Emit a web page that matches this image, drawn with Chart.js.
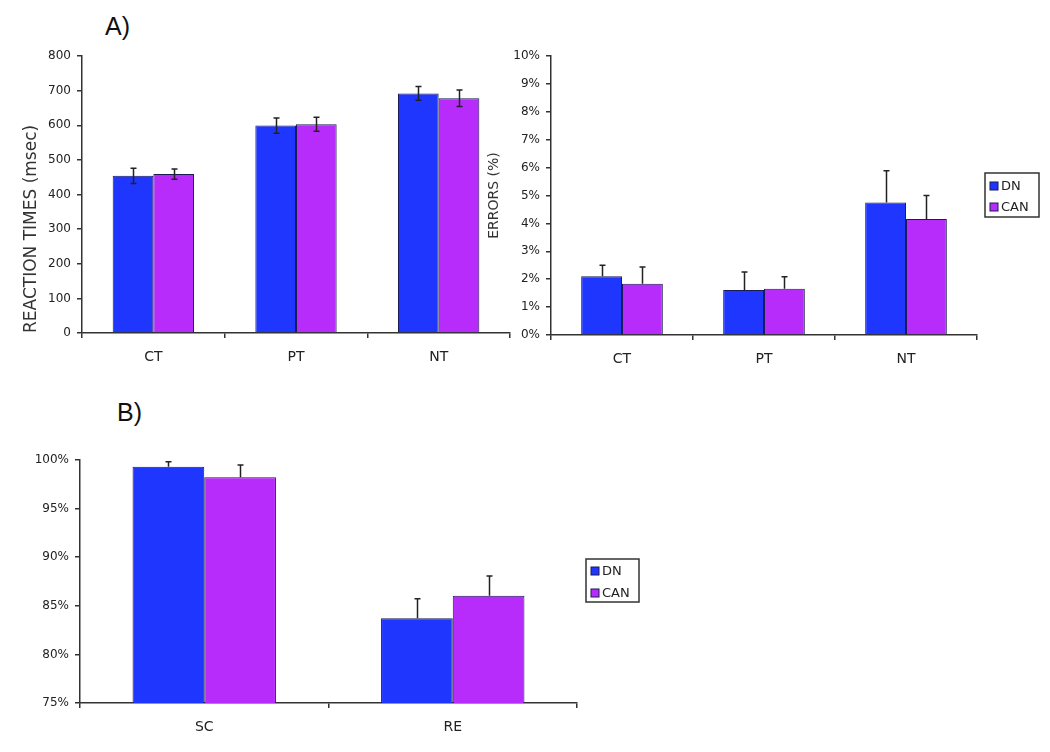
<!DOCTYPE html>
<html>
<head>
<meta charset="utf-8">
<script src="https://cdn.jsdelivr.net/npm/chart.js@4/dist/chart.umd.min.js"></script>
<style>
  html, body { margin: 0; padding: 0; background: #ffffff; }
  #page { position: relative; width: 1050px; height: 752px; overflow: hidden; background: #fff; }
  canvas { position: absolute; }
  .panel { position: absolute; font-family: "Liberation Sans", Arial, sans-serif; font-size: 25px; color: #111; }
</style>
</head>
<body>
<div id="page">
  <div class="panel" style="left:105px; top:12px;">A)</div>
  <div class="panel" style="left:117px; top:398px;">B)</div>
  <canvas id="c1" width="515" height="380" style="left:0; top:0;"></canvas>
  <canvas id="c2" width="580" height="380" style="left:470px; top:0;"></canvas>
  <canvas id="c3" width="700" height="362" style="left:0; top:390px;"></canvas>
</div>
<script>
// ---- data ----
const seriesNames = ['DN', 'CAN'];
const categoriesA = ['CT', 'PT', 'NT'];
const rtDN = [454, 599, 692];
const rtCAN = [459, 603, 678];
const rtErrDN = [22, 22, 20];
const rtErrCAN = [15, 20, 24];
const errDN = [2.11, 1.61, 4.75];
const errCAN = [1.84, 1.66, 4.16];
const errErrDN = [0.39, 0.65, 1.14];
const errErrCAN = [0.60, 0.43, 0.84];
const categoriesB = ['SC', 'RE'];
const accDN = [99.31, 83.71];
const accCAN = [98.22, 86.04];
const accErrDN = [0.52, 2.02];
const accErrCAN = [1.27, 2.02];
const rtAxis = { min: 0, max: 800, step: 100 };
const errAxis = { min: 0, max: 10, step: 1 };
const accAxis = { min: 75, max: 100, step: 5 };

// ---- styles ----
const BLUE = '#1f36ff';
const MAGENTA = '#b82cfb';
const EDGE = '#1b1b55';
const AXIS = '#333333';
const TEXT = '#222222';
const FONT = '"DejaVu Sans", "Liberation Sans", Arial, sans-serif';

const errorBarPlugin = {
  id: 'errorBars',
  afterDatasetsDraw(chart, args, o) {
    const ctx = chart.ctx, y = chart.scales.y;
    ctx.save();
    ctx.strokeStyle = o.color || '#222';
    ctx.lineWidth = o.width || 1.5;
    chart.data.datasets.forEach((ds, i) => {
      const meta = chart.getDatasetMeta(i);
      meta.data.forEach((bar, j) => {
        const v = ds.data[j], e = ds.errors[j];
        const top = y.getPixelForValue(v + e);
        const bot = o.twoSided ? y.getPixelForValue(v - e) : y.getPixelForValue(v);
        const x = Math.round(bar.x) + 0.5;
        ctx.beginPath();
        ctx.moveTo(x, bot); ctx.lineTo(x, top);
        ctx.moveTo(x - o.cap, top); ctx.lineTo(x + o.cap, top);
        if (o.twoSided) { ctx.moveTo(x - o.cap, bot); ctx.lineTo(x + o.cap, bot); }
        ctx.stroke();
      });
    });
    ctx.restore();
  }
};

const boxLegendPlugin = {
  id: 'boxLegend',
  afterDraw(chart, args, o) {
    if (!o || !o.display) return;
    const ctx = chart.ctx;
    ctx.save();
    ctx.fillStyle = '#fff';
    ctx.fillRect(o.x, o.y, o.w, o.h);
    ctx.strokeStyle = AXIS;
    ctx.lineWidth = 1.5;
    ctx.strokeRect(o.x, o.y, o.w, o.h);
    ctx.font = o.fontSize + 'px ' + FONT;
    ctx.textBaseline = 'middle';
    chart.data.datasets.forEach((ds, i) => {
      const cy = o.y + o.rowStart + i * o.rowGap;
      ctx.fillStyle = ds.backgroundColor;
      ctx.fillRect(o.x + 5, cy - 4, 8, 8);
      ctx.strokeStyle = EDGE;
      ctx.lineWidth = 1;
      ctx.strokeRect(o.x + 5, cy - 4, 8, 8);
      ctx.fillStyle = TEXT;
      ctx.fillText(ds.label, o.x + 16, cy + 1);
    });
    ctx.restore();
  }
};

function makeChart(id, cfg) {
  const datasets = cfg.series.map((s, i) => ({
    label: seriesNames[i],
    data: s.data,
    errors: s.errors,
    backgroundColor: i === 0 ? BLUE : MAGENTA,
    borderColor: EDGE,
    borderWidth: 1,
    categoryPercentage: cfg.catPct,
    barPercentage: 1.0
  }));
  return new Chart(document.getElementById(id), {
    type: 'bar',
    data: { labels: cfg.labels, datasets },
    plugins: [errorBarPlugin, boxLegendPlugin],
    options: {
      responsive: false,
      animation: false,
      layout: { padding: cfg.padding },
      plugins: {
        legend: { display: false },
        tooltip: { enabled: false },
        errorBars: { twoSided: cfg.twoSided, cap: 3, width: 1.5, color: '#222' },
        boxLegend: cfg.legend || { display: false }
      },
      scales: {
        x: {
          afterFit: s => { s.height = cfg.xHeight; },
          grid: { display: true, offset: true, drawOnChartArea: false, drawTicks: true, tickLength: 5, color: AXIS, lineWidth: 1.5 },
          border: { display: true, color: AXIS, width: 1.5 },
          ticks: { color: TEXT, font: { family: FONT, size: 14 }, padding: 11 }
        },
        y: {
          min: cfg.axis.min, max: cfg.axis.max,
          afterFit: s => { s.width = cfg.yWidth; },
          grid: { display: true, drawOnChartArea: false, drawTicks: true, tickLength: 5, color: AXIS, lineWidth: 1.5 },
          border: { display: true, color: AXIS, width: 1.5 },
          ticks: {
            stepSize: cfg.axis.step, color: TEXT, font: { family: FONT, size: 12 }, padding: 6,
            callback: cfg.tickFmt
          },
          title: cfg.yTitle || { display: false }
        }
      }
    }
  });
}

makeChart('c1', {
  labels: categoriesA,
  series: [{ data: rtDN, errors: rtErrDN }, { data: rtCAN, errors: rtErrCAN }],
  axis: rtAxis, catPct: 0.57, twoSided: true,
  padding: { top: 56, right: 5, bottom: 0, left: 0 },
  yWidth: 82, xHeight: 47,
  tickFmt: v => String(v),
  yTitle: { display: true, text: 'REACTION TIMES (msec)', align: 'start', color: '#333',
            font: { family: FONT, size: 17 }, padding: { top: 21, bottom: 0 } }
});

makeChart('c2', {
  labels: categoriesA,
  series: [{ data: errDN, errors: errErrDN }, { data: errCAN, errors: errErrCAN }],
  axis: errAxis, catPct: 0.575, twoSided: false,
  padding: { top: 56, right: 73, bottom: 0, left: 0 },
  yWidth: 81, xHeight: 45,
  tickFmt: v => v + '%',
  yTitle: { display: true, text: 'ERRORS (%)', align: 'center', color: '#333',
            font: { family: FONT, size: 14 }, padding: { top: 16, bottom: 0 } },
  legend: { display: true, x: 515, y: 173, w: 54, h: 44, rowStart: 13, rowGap: 21, fontSize: 13 }
});

makeChart('c3', {
  labels: categoriesB,
  series: [{ data: accDN, errors: accErrDN }, { data: accCAN, errors: accErrCAN }],
  axis: accAxis, catPct: 0.577, twoSided: false,
  padding: { top: 70, right: 123, bottom: 0, left: 0 },
  yWidth: 80, xHeight: 49,
  tickFmt: v => v + '%',
  legend: { display: true, x: 586, y: 169, w: 53, h: 43, rowStart: 12, rowGap: 22, fontSize: 13 }
});
</script>
</body>
</html>
